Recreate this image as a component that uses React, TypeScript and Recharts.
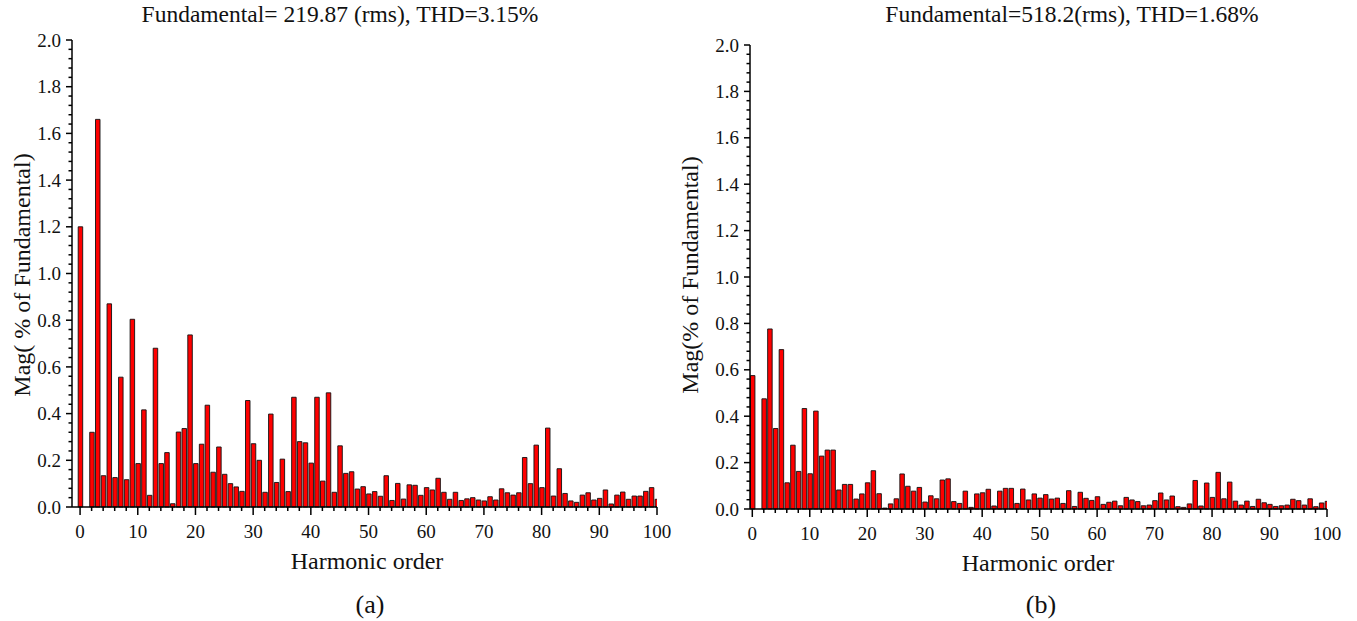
import { Bar, BarChart, XAxis, YAxis } from "recharts";

// harmonic orders 0..100 (order 1 = fundamental, not drawn)
const harmonicOrders: number[] = Array.from({ length: 101 }, (_, i) => i);

// (a) magnitude, % of fundamental
const magA: (number | null)[] = [
  1.2, null, 0.32, 1.66, 0.134, 0.87, 0.126, 0.556, 0.117, 0.804,
  0.186, 0.416, 0.05, 0.68, 0.186, 0.233, 0.014, 0.321, 0.336, 0.737,
  0.186, 0.269, 0.436, 0.149, 0.257, 0.14, 0.1, 0.086, 0.067, 0.456,
  0.271, 0.2, 0.063, 0.398, 0.105, 0.205, 0.066, 0.47, 0.28, 0.275,
  0.188, 0.47, 0.111, 0.489, 0.063, 0.262, 0.144, 0.151, 0.077, 0.087,
  0.056, 0.066, 0.046, 0.134, 0.028, 0.101, 0.034, 0.095, 0.093, 0.05,
  0.083, 0.073, 0.123, 0.063, 0.033, 0.063, 0.028, 0.035, 0.04, 0.03,
  0.026, 0.044, 0.03, 0.078, 0.061, 0.051, 0.061, 0.212, 0.1, 0.265,
  0.083, 0.338, 0.047, 0.164, 0.058, 0.026, 0.02, 0.051, 0.061, 0.03,
  0.037, 0.073, 0.013, 0.051, 0.064, 0.033, 0.047, 0.047, 0.067, 0.083,
  0.033,
];

// (b) magnitude, % of fundamental
const magB: (number | null)[] = [
  0.575, null, 0.475, 0.776, 0.347, 0.687, 0.113, 0.275, 0.162, 0.433,
  0.152, 0.422, 0.228, 0.254, 0.254, 0.082, 0.106, 0.106, 0.043, 0.065,
  0.113, 0.165, 0.066, 0.004, 0.022, 0.044, 0.151, 0.098, 0.077, 0.093,
  0.03, 0.057, 0.044, 0.125, 0.13, 0.032, 0.024, 0.077, 0.007, 0.065,
  0.07, 0.085, 0.013, 0.077, 0.089, 0.089, 0.024, 0.086, 0.039, 0.065,
  0.047, 0.062, 0.043, 0.047, 0.024, 0.079, 0.011, 0.072, 0.046, 0.037,
  0.053, 0.02, 0.029, 0.034, 0.014, 0.05, 0.039, 0.032, 0.014, 0.017,
  0.036, 0.069, 0.039, 0.056, 0.01, 0.007, 0.022, 0.123, 0.013, 0.112,
  0.05, 0.158, 0.044, 0.116, 0.034, 0.017, 0.034, 0.011, 0.042, 0.027,
  0.02, 0.011, 0.014, 0.017, 0.042, 0.036, 0.017, 0.044, 0.01, 0.026,
  0.033,
];

const xTicks: number[] = Array.from({ length: 51 }, (_, i) => i * 2);
const yTicks: number[] = Array.from({ length: 51 }, (_, i) => +(i * 0.04).toFixed(2));

const FONT = "'Liberation Serif', 'Times New Roman', serif";

function XTick(props: any) {
  const { x, y, payload } = props;
  const v = payload.value as number;
  const major = v % 10 === 0;
  return (
    <g>
      <line x1={x} x2={x} y1={y} y2={y + (major ? 8 : 4)} stroke="#000" strokeWidth={1.5} />
      {major && (
        <text
          x={x}
          y={y + 31}
          textAnchor="middle"
          fill="#111"
          style={{ fontFamily: FONT, fontSize: 19 }}
        >
          {v}
        </text>
      )}
    </g>
  );
}

function YTick(props: any) {
  const { x, y, payload } = props;
  const v = payload.value as number;
  const r = v / 0.2;
  const major = Math.abs(r - Math.round(r)) < 1e-6;
  return (
    <g>
      <line x1={x - (major ? 6 : 3.5)} x2={x} y1={y} y2={y} stroke="#000" strokeWidth={1.5} />
      {major && (
        <text
          x={x - 11}
          y={y}
          dy="0.35em"
          textAnchor="end"
          fill="#111"
          style={{ fontFamily: FONT, fontSize: 19 }}
        >
          {v.toFixed(1)}
        </text>
      )}
    </g>
  );
}

interface PanelProps {
  values: (number | null)[];
  left: number;
  width: number;
  axisWidth: number;
  xMin: number;
  top: number;
  right: number;
  bottom: number;
}

function Panel({ values, left, width, axisWidth, xMin, top, right, bottom }: PanelProps) {
  const data = harmonicOrders.map((h, i) => ({ h, mag: values[i] }));
  return (
    <div style={{ position: "absolute", left, top: 0 }}>
      <BarChart
        width={width}
        height={621}
        data={data}
        margin={{ top, right, bottom, left: 0 }}
      >
        <XAxis
          dataKey="h"
          type="number"
          domain={[xMin, 100]}
          ticks={xTicks}
          interval={0}
          tick={<XTick />}
          tickLine={false}
          tickSize={0}
          tickMargin={0}
          height={30}
          axisLine={{ stroke: "#000", strokeWidth: 1.5 }}
          allowDataOverflow
        />
        <YAxis
          type="number"
          domain={[0, 2]}
          ticks={yTicks}
          interval={0}
          tick={<YTick />}
          tickLine={false}
          tickSize={0}
          tickMargin={0}
          width={axisWidth}
          axisLine={{ stroke: "#000", strokeWidth: 1.5 }}
        />
        <Bar
          dataKey="mag"
          barSize={4.5}
          fill="#ff0000"
          stroke="#111"
          strokeWidth={0.9}
          isAnimationActive={false}
        />
      </BarChart>
    </div>
  );
}

export default function App() {
  return (
    <div
      style={{
        position: "absolute",
        left: 0,
        top: 0,
        width: 1357,
        height: 621,
        background: "#fff",
        fontFamily: FONT,
      }}
    >
      <Panel values={magA} left={0} width={680} axisWidth={72} xMin={-1.4} top={40} right={23} bottom={84} />
      <Panel values={magB} left={680} width={677} axisWidth={70} xMin={-0.4} top={45} right={30} bottom={82} />
      <svg
        width={1357}
        height={621}
        style={{ position: "absolute", left: 0, top: 0, pointerEvents: "none", fontFamily: FONT }}
        fill="#111"
      >
        <text x={340} y={22} textAnchor="middle" fontSize={23.5}>
          Fundamental= 219.87 (rms), THD=3.15%
        </text>
        <text x={1072} y={22} textAnchor="middle" fontSize={23.5}>
          Fundamental=518.2(rms), THD=1.68%
        </text>
        <text x={30} y={275} textAnchor="middle" fontSize={24} transform="rotate(-90 30 275)">
          Mag( % of Fundamental)
        </text>
        <text x={698} y={275} textAnchor="middle" fontSize={24} transform="rotate(-90 698 275)">
          Mag(% of Fundamental)
        </text>
        <text x={367} y={569} textAnchor="middle" fontSize={24}>
          Harmonic order
        </text>
        <text x={1038} y={571} textAnchor="middle" fontSize={24}>
          Harmonic order
        </text>
        <text x={370} y={613} textAnchor="middle" fontSize={26}>
          (a)
        </text>
        <text x={1041} y={613} textAnchor="middle" fontSize={26}>
          (b)
        </text>
      </svg>
    </div>
  );
}
